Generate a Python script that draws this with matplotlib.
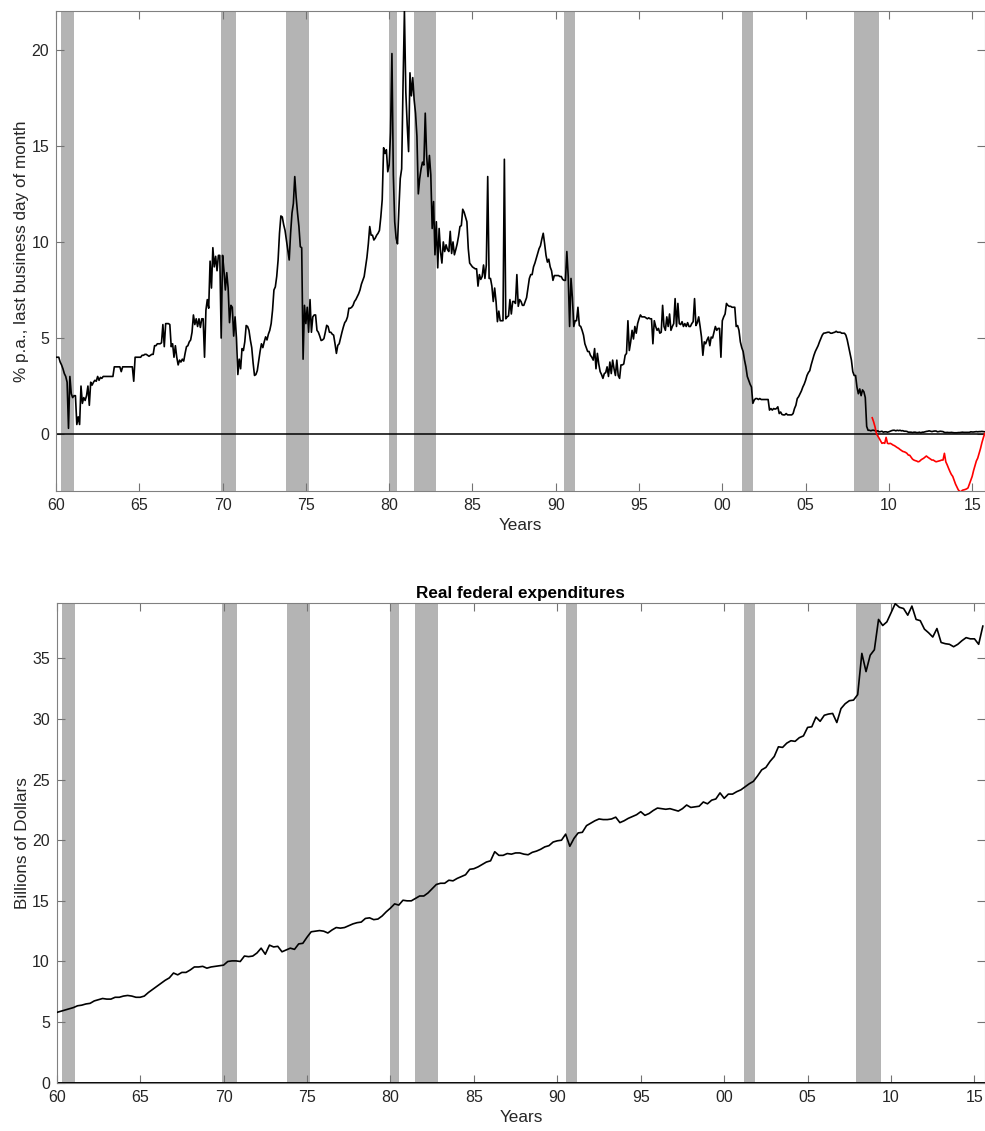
import numpy as np
import matplotlib.pyplot as plt

plt.rcParams['font.family'] = ['Liberation Sans', 'DejaVu Sans']

# NBER recessions (peak, trough) in fractional years
recessions = [(1960.33, 1961.08), (1969.92, 1970.83), (1973.83, 1975.17),
              (1980.0, 1980.5), (1981.5, 1982.83), (1990.5, 1991.17),
              (2001.17, 2001.83), (2007.92, 2009.42)]

# federal funds rate, last business day of month, Jan 1960 - Oct 2015
ffr = [
    4.0, 4.0, 4.0, 3.75, 3.6, 3.4, 3.15, 3.0, 2.7, 0.3, 3.0, 2.1,          # 1960
    1.9, 2.0, 2.0, 0.5, 0.9, 0.5, 2.5, 1.6, 1.9, 1.75, 2.0, 2.5,           # 1961
    1.5, 2.7, 2.55, 2.7, 2.8, 2.75, 3.0, 2.8, 2.95, 2.9, 3.0, 3.0,         # 1962
    3.0, 3.0, 3.0, 3.0, 3.0, 3.0, 3.5, 3.5, 3.5, 3.5, 3.5, 3.25,           # 1963
    3.5, 3.5, 3.5, 3.5, 3.5, 3.5, 3.5, 3.5, 2.75, 4.0, 4.0, 4.0,           # 1964
    4.0, 4.0, 4.1, 4.1, 4.15, 4.15, 4.1, 4.05, 4.1, 4.15, 4.15, 4.6,       # 1965
    4.6, 4.7, 4.7, 4.7, 4.75, 5.7, 4.55, 5.75, 5.75, 5.75, 5.7, 4.55,      # 1966
    4.7, 4.0, 4.6, 4.0, 3.6, 3.85, 3.75, 3.9, 3.8, 4.2, 4.55, 4.6,         # 1967
    4.8, 4.9, 5.3, 6.2, 5.7, 6.0, 5.6, 6.0, 5.55, 6.0, 6.0, 4.0,           # 1968
    6.45, 7.0, 6.55, 9.0, 7.6, 9.7, 8.7, 9.25, 8.5, 9.3, 9.3, 5.0,         # 1969
    9.3, 8.5, 7.5, 8.4, 7.6, 5.8, 6.7, 6.6, 5.1, 6.1, 5.0, 3.1,            # 1970
    3.9, 3.4, 4.45, 4.35, 4.8, 5.65, 5.6, 5.4, 4.9, 4.5, 3.7, 3.05,        # 1971
    3.1, 3.3, 3.8, 4.3, 4.7, 4.5, 4.8, 5.06, 4.9, 5.2, 5.4, 5.75,          # 1972
    6.45, 7.5, 7.66, 8.2, 9.06, 10.45, 11.35, 11.3, 10.9, 10.6, 10.1, 9.6, # 1973
    9.06, 10.45, 11.5, 12.0, 13.4, 12.33, 11.5, 10.8, 9.75, 9.7, 3.9, 6.7, # 1974
    5.75, 6.6, 5.3, 7.0, 5.3, 6.1, 6.2, 6.2, 5.4, 5.3, 5.1, 4.87,          # 1975
    4.9, 4.97, 5.3, 5.66, 5.6, 5.3, 5.3, 5.2, 5.15, 4.7, 4.2, 4.62,        # 1976
    4.7, 5.0, 5.3, 5.57, 5.8, 5.9, 6.1, 6.55, 6.55, 6.6, 6.7, 6.9,         # 1977
    7.0, 7.15, 7.3, 7.5, 7.8, 8.0, 8.2, 8.7, 9.2, 9.9, 10.8, 10.35,        # 1978
    10.35, 10.1, 10.2, 10.35, 10.45, 10.6, 11.3, 12.2, 14.9, 14.6, 14.8, 13.65,  # 1979
    14.0, 15.7, 19.8, 13.5, 11.05, 10.2, 9.9, 11.7, 13.3, 13.8, 18.15, 22.0,     # 1980
    17.8, 16.1, 14.7, 18.8, 17.6, 18.55, 17.4, 16.7, 15.5, 12.5, 13.3, 13.8,     # 1981
    14.15, 14.0, 16.7, 14.5, 13.4, 14.5, 13.5, 10.7, 12.1, 9.33, 11.05, 8.65,    # 1982
    10.7, 9.5, 8.9, 10.0, 9.5, 9.85, 9.6, 9.5, 10.55, 9.4, 10.0, 9.33,     # 1983
    9.6, 9.9, 10.3, 10.8, 10.85, 11.7, 11.55, 11.3, 11.05, 9.65, 8.9, 8.8, # 1984
    8.7, 8.65, 8.6, 8.6, 7.7, 8.3, 8.05, 8.2, 8.8, 8.1, 8.8, 13.4,         # 1985
    8.1, 8.1, 7.7, 6.9, 7.6, 6.9, 5.85, 6.4, 5.9, 5.9, 5.9, 14.3,          # 1986
    6.0, 6.1, 6.15, 7.0, 6.25, 6.9, 6.9, 6.8, 8.3, 6.65, 7.0, 6.9,         # 1987
    6.7, 6.7, 6.9, 7.1, 7.6, 8.1, 8.3, 8.3, 8.7, 8.9, 9.15, 9.4,           # 1988
    9.65, 9.8, 10.15, 10.45, 9.9, 9.3, 8.95, 9.1, 8.7, 8.5, 8.0, 8.25,     # 1989
    8.25, 8.25, 8.25, 8.2, 8.2, 8.05, 8.0, 8.0, 9.5, 8.2, 5.6, 8.1,        # 1990
    7.1, 5.6, 5.9, 5.9, 6.6, 5.65, 5.6, 5.4, 5.15, 4.7, 4.5, 4.3,          # 1991
    4.3, 4.1, 4.0, 3.85, 4.45, 3.4, 4.2, 3.65, 3.25, 3.1, 2.9, 3.15,       # 1992
    3.2, 3.5, 3.0, 3.75, 3.15, 3.85, 3.4, 3.05, 3.85, 3.05, 2.9, 3.6,      # 1993
    3.6, 3.65, 4.1, 4.2, 5.9, 4.35, 4.8, 5.4, 4.95, 5.6, 5.25, 5.75,       # 1994
    6.0, 6.2, 6.1, 6.1, 6.1, 6.05, 6.0, 6.05, 6.0, 6.0, 4.7, 5.9,          # 1995
    5.6, 5.4, 5.5, 5.25, 5.3, 6.7, 5.6, 5.4, 6.1, 5.6, 6.25, 5.4,          # 1996
    5.6, 5.75, 7.05, 5.6, 6.8, 5.75, 5.7, 5.85, 5.6, 5.75, 5.6, 5.8,       # 1997
    5.6, 5.6, 5.75, 5.85, 7.05, 5.65, 5.8, 6.1, 5.6, 5.05, 4.1, 4.8,       # 1998
    4.7, 4.9, 5.05, 4.6, 5.05, 5.0, 5.3, 5.6, 5.4, 5.5, 5.5, 4.0,          # 1999
    5.9, 6.1, 6.25, 6.8, 6.7, 6.65, 6.65, 6.6, 6.6, 6.6, 5.6, 5.65,        # 2000
    5.4, 4.8, 4.5, 4.3, 3.85, 3.5, 3.0, 2.8, 2.6, 2.45, 1.6, 1.77,         # 2001
    1.85, 1.85, 1.8, 1.85, 1.8, 1.8, 1.8, 1.8, 1.8, 1.8, 1.25, 1.33,       # 2002
    1.25, 1.33, 1.3, 1.33, 1.42, 1.07, 1.15, 1.02, 1.0, 1.0, 1.07, 1.0,    # 2003
    1.0, 1.0, 1.0, 1.07, 1.33, 1.5, 1.85, 1.95, 2.1, 2.25, 2.45, 2.6,      # 2004
    2.8, 3.05, 3.2, 3.3, 3.6, 3.85, 4.1, 4.3, 4.45, 4.6, 4.8, 4.97,        # 2005
    5.15, 5.25, 5.26, 5.28, 5.3, 5.3, 5.25, 5.25, 5.28, 5.3, 5.35, 5.3,    # 2006
    5.3, 5.3, 5.25, 5.25, 5.25, 5.15, 4.9, 4.55, 4.2, 3.85, 3.25, 3.05,    # 2007
    3.05, 2.45, 2.1, 2.35, 2.0, 2.3, 2.2, 1.9, 0.4, 0.2, 0.2, 0.17,        # 2008
    0.2, 0.2, 0.18, 0.15, 0.17, 0.12, 0.13, 0.15, 0.1, 0.12, 0.12, 0.1,    # 2009
    0.12, 0.15, 0.18, 0.2, 0.2, 0.17, 0.2, 0.18, 0.2, 0.17, 0.18, 0.15,    # 2010
    0.15, 0.14, 0.1, 0.1, 0.1, 0.08, 0.1, 0.1, 0.08, 0.08, 0.1, 0.07,      # 2011
    0.1, 0.1, 0.12, 0.14, 0.15, 0.17, 0.15, 0.13, 0.15, 0.16, 0.16, 0.12,  # 2012
    0.13, 0.15, 0.14, 0.13, 0.09, 0.08, 0.09, 0.08, 0.08, 0.09, 0.08, 0.07,  # 2013
    0.07, 0.07, 0.08, 0.08, 0.09, 0.1, 0.09, 0.09, 0.09, 0.09, 0.09, 0.12,   # 2014
    0.11, 0.11, 0.12, 0.13, 0.12, 0.13, 0.13, 0.14, 0.13, 0.12,              # 2015
]

# shadow rate, Jan 2009 - Oct 2015
shadow = [
    0.85, 0.64, 0.38, 0.03, -0.1, -0.22, -0.35, -0.48, -0.45, -0.48, -0.17, -0.48,
    -0.5, -0.48, -0.52, -0.57, -0.6, -0.65, -0.7, -0.74, -0.8, -0.85, -0.9, -0.92,
    -0.95, -1.0, -1.09, -1.1, -1.2, -1.3, -1.35, -1.38, -1.4, -1.44, -1.42, -1.35,
    -1.3, -1.26, -1.2, -1.14, -1.2, -1.25, -1.3, -1.35, -1.35, -1.4, -1.44, -1.42,
    -1.4, -1.38, -1.35, -1.35, -1.0, -1.44, -1.6, -1.78, -1.95, -2.1, -2.2, -2.4,
    -2.6, -2.75, -2.9, -2.98, -2.99, -2.92, -2.9, -2.88, -2.85, -2.8, -2.6, -2.4,
    -2.2, -1.9, -1.65, -1.4, -1.25, -1.0, -0.75, -0.45, -0.2, 0.03,
]

# real federal expenditures, quarterly from 1960Q1
fedexp = [
    5.80, 5.90, 6.00, 6.10, 6.20, 6.35, 6.40, 6.50, 6.55, 6.75, 6.85, 6.95,
    6.90, 6.90, 7.05, 7.05, 7.15, 7.20, 7.15, 7.05, 7.05, 7.15, 7.45, 7.70,
    7.95, 8.20, 8.45, 8.65, 9.05, 8.90, 9.10, 9.10, 9.30, 9.55, 9.55, 9.60,
    9.45, 9.55, 9.60, 9.65, 9.70, 10.00, 10.05, 10.05, 10.00, 10.45, 10.40, 10.45,
    10.70, 11.10, 10.60, 11.35, 11.20, 11.25, 10.80, 10.95, 11.10, 11.00, 11.45, 11.50,
    12.00, 12.45, 12.50, 12.55, 12.50, 12.35, 12.60, 12.80, 12.75, 12.80, 12.95, 13.10,
    13.20, 13.25, 13.55, 13.60, 13.45, 13.50, 13.75, 14.10, 14.40, 14.75, 14.65, 15.05,
    15.00, 15.00, 15.20, 15.40, 15.40, 15.65, 16.00, 16.35, 16.45, 16.45, 16.70, 16.65,
    16.85, 17.00, 17.15, 17.60, 17.65, 17.80, 18.00, 18.20, 18.30, 19.05, 18.75, 18.75,
    18.90, 18.85, 18.95, 18.95, 18.85, 18.80, 19.00, 19.10, 19.25, 19.45, 19.55, 19.85,
    19.95, 20.00, 20.50, 19.50, 20.15, 20.60, 20.65, 21.20, 21.40, 21.60, 21.75, 21.70,
    21.70, 21.75, 21.90, 21.45, 21.60, 21.80, 21.95, 22.10, 22.35, 22.05, 22.20, 22.45,
    22.65, 22.60, 22.55, 22.60, 22.50, 22.40, 22.60, 22.90, 22.70, 22.75, 22.80, 23.15,
    23.00, 23.30, 23.40, 23.90, 23.45, 23.80, 23.80, 24.00, 24.15, 24.40, 24.65, 24.85,
    25.30, 25.80, 26.00, 26.50, 26.90, 27.70, 27.65, 28.00, 28.20, 28.15, 28.45, 28.60,
    29.30, 29.35, 30.15, 29.80, 30.30, 30.40, 30.45, 29.70, 30.85, 31.25, 31.50, 31.55,
    32.00, 35.40, 33.90, 35.25, 35.70, 38.20, 37.70, 38.00, 38.75, 39.50, 39.20, 39.10,
    38.55, 39.30, 38.20, 38.10, 37.40, 37.10, 36.75, 37.45, 36.30, 36.20, 36.15, 35.95,
    36.15, 36.45, 36.70, 36.60, 36.60, 36.15, 37.65,
]

year_ticks = np.arange(1960, 2016, 5)
year_labels = ['60', '65', '70', '75', '80', '85', '90', '95', '00', '05', '10', '15']

t_ffr = 1960 + np.arange(len(ffr)) / 12
t_shadow = 2009 + np.arange(len(shadow)) / 12
t_exp = 1960 + np.arange(len(fedexp)) / 4

fig = plt.figure(figsize=(9.85, 11.31), dpi=100)
ax1 = fig.add_axes([56 / 985, 1 - 490.8 / 1131, 929 / 985, 479.5 / 1131])
ax2 = fig.add_axes([56.7 / 985, 1 - 1082.8 / 1131, 928.3 / 985, 479.5 / 1131])

shade = '#b4b4b4'
for ax in (ax1, ax2):
    for a, b in recessions:
        ax.axvspan(a, b, color=shade, lw=0, zorder=0)
    ax.set_xticks(year_ticks)
    ax.set_xticklabels(year_labels)
    ax.tick_params(direction='in', length=5.5, width=0.8, top=True, right=True,
                   color='0.45', labelcolor='0.15', labelsize=11.5, pad=5)
    for s in ax.spines.values():
        s.set_color('0.5')
        s.set_linewidth(0.8)
    ax.set_xlabel('Years', fontsize=12.3, color='0.15', labelpad=4)

# top: interest rate
ax1.axhline(0, color='k', lw=1.1, zorder=2)
ax1.plot(t_ffr, ffr, color='k', lw=1.2, zorder=3)
ax1.plot(t_shadow, shadow, color='r', lw=1.2, zorder=3)
ax1.set_xlim(1960, 2015.77)
ax1.set_ylim(-2.95, 22)
ax1.set_yticks([0, 5, 10, 15, 20])
ax1.set_ylabel('% p.a., last business day of month', fontsize=12.3, color='0.15',
               labelpad=1.5)

# bottom: expenditures
ax2.axhline(0, color='k', lw=1.4, zorder=2)
ax2.plot(t_exp, fedexp, color='k', lw=1.2, zorder=3)
ax2.set_xlim(1960, 2015.63)
ax2.set_ylim(0, 39.53)
ax2.set_yticks(np.arange(0, 36, 5))
ax2.set_ylabel('Billions of Dollars', fontsize=12.3, color='0.15', labelpad=1.5)
ax2.set_title('Real federal expenditures', fontsize=12.3, fontweight='bold', pad=4)

fig.savefig('out.png', dpi=100)
